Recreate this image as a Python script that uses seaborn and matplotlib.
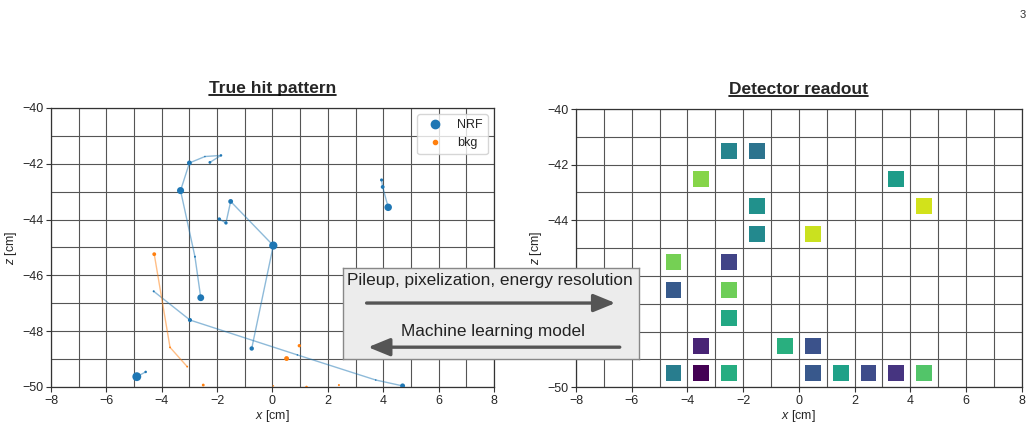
import numpy as np
import pandas as pd
import matplotlib
matplotlib.use("Agg")
import matplotlib.pyplot as plt
import seaborn as sns
from matplotlib.lines import Line2D

# ---- true hits (left panel) ----
hit_x = [-2.59, -2.80, -3.32, -3.00, -2.44, -1.86, -2.26,
         -0.75, 0.03, -1.51, -1.68, -1.92,
         -4.29, -2.98, 0.90, 3.73, 4.70,
         3.94, 3.98, 4.18,
         -4.90, -4.58,
         -4.27, -3.70, -3.08,
         -2.50, 0.51, 0.97, 0.03, 1.23, 2.40]
hit_z = [-46.80, -45.33, -42.96, -41.97, -41.74, -41.70, -41.95,
         -48.62, -44.93, -43.35, -44.12, -43.98,
         -46.57, -47.60, -48.85, -49.75, -49.96,
         -42.58, -42.83, -43.56,
         -49.63, -49.46,
         -45.24, -48.58, -49.27,
         -49.93, -48.98, -48.52, -49.96, -50.00, -49.93]
hit_e = [0.58, 0.05, 0.62, 0.29, 0.03, 0.08, 0.10,
         0.24, 0.83, 0.29, 0.14, 0.14,
         0.05, 0.21, 0.03, 0.03, 0.30,
         0.12, 0.18, 0.69,
         0.97, 0.08,
         0.18, 0.04, 0.04,
         0.10, 0.29, 0.14, 0.03, 0.08, 0.05]
hit_track = [0, 0, 0, 0, 0, 0, 0,
             1, 1, 1, 1, 1,
             2, 2, 2, 2, 2,
             3, 3, 3,
             4, 4,
             5, 5, 5,
             6, 7, 8, 9, 10, 11]
hit_kind = ["NRF"] * 22 + ["bkg"] * 9

# ---- detector readout (right panel) ----
pix_x = [-2.5, -1.5, -3.5, 3.5, -1.5, 4.5, -1.5, 0.5, -4.5, -2.5, -4.5, -2.5,
         -2.5, -3.5, -0.5, 0.5, -4.5, -3.5, -2.5, 0.5, 1.5, 2.5, 3.5, 4.5]
pix_z = [-41.5, -41.5, -42.5, -42.5, -43.5, -43.5, -44.5, -44.5, -45.5, -45.5,
         -46.5, -46.5, -47.5, -48.5, -48.5, -48.5, -49.5, -49.5, -49.5, -49.5,
         -49.5, -49.5, -49.5, -49.5]
pix_e = [0.45, 0.38, 0.82, 0.55, 0.50, 0.93, 0.47, 0.92, 0.79, 0.20, 0.28, 0.78,
         0.60, 0.10, 0.63, 0.25, 0.42, 0.00, 0.62, 0.27, 0.57, 0.23, 0.15, 0.73]

hits = pd.DataFrame({"x": hit_x, "z": hit_z, "energy": hit_e,
                     "track": hit_track, "kind": hit_kind})
pixels = pd.DataFrame({"x": pix_x, "z": pix_z, "energy": pix_e})

sns.set_theme(style="whitegrid")
plt.rcParams["font.family"] = ["Liberation Sans", "DejaVu Sans"]
plt.rcParams["mathtext.fontset"] = "custom"
plt.rcParams["mathtext.it"] = "Liberation Sans:italic"
plt.rcParams["mathtext.rm"] = "Liberation Sans"
plt.rcParams["axes.unicode_minus"] = True

palette = {"NRF": "tab:blue", "bkg": "tab:orange"}

fig = plt.figure(figsize=(10.36, 4.28), dpi=100)
ax1 = fig.add_axes([0.0492, 0.0958, 0.4276, 0.6519])
ax2 = fig.add_axes([0.556, 0.0951, 0.4302, 0.6502])

# left: tracks + hits
sns.lineplot(data=hits, x="x", y="z", units="track", estimator=None, sort=False,
             hue="kind", palette=palette, linewidth=1.0, alpha=0.5,
             legend=False, ax=ax1)
sns.scatterplot(data=hits, x="x", y="z", hue="kind", palette=palette,
                size="energy", sizes=(0, 42), size_norm=(0, 1),
                linewidth=0, legend=False, ax=ax1, zorder=3)
handles = [Line2D([], [], ls="", marker="o", ms=6, color="tab:blue", label="NRF"),
           Line2D([], [], ls="", marker="o", ms=3, color="tab:orange", label="bkg")]
ax1.legend(handles=handles, loc="upper right", fontsize=9, framealpha=0.8)

# right: pixel readout
sns.scatterplot(data=pixels, x="x", y="z", hue="energy", palette="viridis",
                hue_norm=(0, 1), marker="s", s=132, linewidth=0,
                legend=False, ax=ax2, zorder=3)

for ax, title in [(ax1, "True hit pattern"), (ax2, "Detector readout")]:
    ax.set_xlim(-8, 8)
    ax.set_ylim(-50, -40)
    ax.set_xticks(np.arange(-8, 9, 2))
    ax.set_yticks(np.arange(-50, -39, 2))
    ax.set_xticks(np.arange(-8, 9, 1), minor=True)
    ax.set_yticks(np.arange(-50, -39, 1), minor=True)
    ax.grid(True, which="both", color="#555555", linewidth=0.8)
    ax.tick_params(which="major", length=3.5, width=0.8, color="#333333",
                   labelsize=9, pad=2, left=True, bottom=True)
    ax.tick_params(which="minor", length=0)
    for sp in ax.spines.values():
        sp.set_color("#333333")
        sp.set_linewidth(0.9)
    ax.set_xlabel("$x$ [cm]", fontsize=9, labelpad=1)
    ax.set_ylabel("$z$ [cm]", fontsize=9, labelpad=2)
    ax.set_title(title, fontsize=12.5, fontweight="bold", pad=11)

# process box in the middle
box = fig.add_axes([0.331, 0.1612, 0.2858, 0.2126])
box.set_facecolor("#ececec")
box.set_xlim(0, 1)
box.set_ylim(0, 1)
box.set_xticks([])
box.set_yticks([])
box.grid(False)
for sp in box.spines.values():
    sp.set_color("#888888")
    sp.set_linewidth(1.0)
box.text(0.498, 0.86, "Pileup, pixelization, energy resolution",
         ha="center", va="center", fontsize=12.4, color="#222222")
box.text(0.508, 0.30, "Machine learning model",
         ha="center", va="center", fontsize=12.4, color="#222222")
arrow = dict(arrowstyle="-|>,head_length=1.1,head_width=0.45",
             color="#555555", lw=2.4, shrinkA=0, shrinkB=0)
box.annotate("", xy=(0.92, 0.615), xytext=(0.08, 0.615), arrowprops=arrow)
box.annotate("", xy=(0.085, 0.13), xytext=(0.935, 0.13), arrowprops=arrow)

fig.text(0.99, 0.958, "3", fontsize=8, ha="right", color="#333333")

# underline titles
fig.canvas.draw()
inv = fig.transFigure.inverted()
for ax in (ax1, ax2):
    bb = ax.title.get_window_extent().transformed(inv)
    fig.add_artist(Line2D([bb.x0, bb.x1], [bb.y0 + 0.002, bb.y0 + 0.002],
                          transform=fig.transFigure, color="black", lw=1.2))

fig.savefig("out.png", dpi=100)
